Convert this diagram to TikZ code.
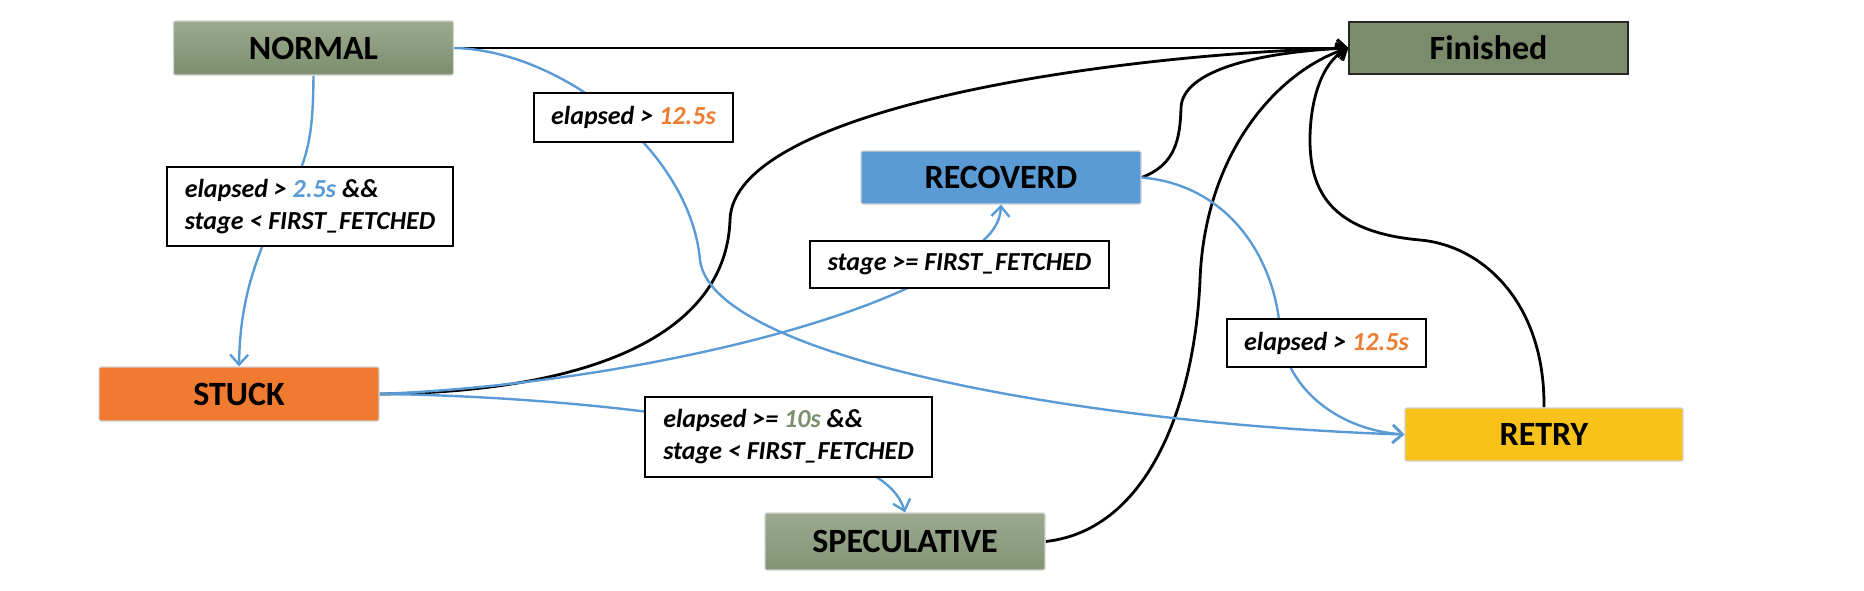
\documentclass[tikz,border=0pt]{standalone}
\usepackage{fontspec}
\setmainfont{Carlito}
\usetikzlibrary{arrows.meta,backgrounds}
\definecolor{grtop}{HTML}{9CAA90}
\definecolor{grbot}{HTML}{7C8E6D}
\definecolor{finc}{HTML}{7B8C6C}
\definecolor{recc}{HTML}{5B9BD5}
\definecolor{stuckc}{HTML}{F07A30}
\definecolor{retryc}{HTML}{F8C21A}
\definecolor{lineblue}{HTML}{5B9BD5}
\definecolor{orangetxt}{HTML}{ED7D31}
\definecolor{greentxt}{HTML}{7E906F}
\begin{document}
\begin{tikzpicture}[x=1pt,y=-1pt,
  stnode/.style={minimum width=280pt, minimum height=54pt, inner sep=0pt,
    font=\fontsize{34}{40}\selectfont\bfseries, draw=gray!35, line width=1.2pt, rounded corners=2pt},
  condbox/.style={draw=black, line width=2pt, fill=white, inner sep=0pt,
    font=\fontsize{26}{32}\selectfont\bfseries\itshape, align=left},
  blk/.style={draw=black, line width=2.8pt, -{Straight Barb[length=9pt,width=17pt,line width=2.8pt]}},
  blu/.style={draw=lineblue, line width=2.4pt, -{Straight Barb[length=10pt,width=18pt]}}
]
\useasboundingbox (0,0) rectangle (1864,590);

% state nodes
\node[stnode, top color=grtop, bottom color=grbot] (NORMAL) at (313.5,48) {NORMAL};
\node[stnode, fill=finc, draw=black!85, rounded corners=0pt, minimum width=279pt, minimum height=52pt] (Finished) at (1488.5,48) {Finished};
\node[stnode, fill=recc, minimum height=53pt] (RECOVERD) at (1001,177.5) {RECOVERD};
\node[stnode, fill=stuckc] (STUCK) at (239,394) {STUCK};
\node[stnode, fill=retryc, minimum width=278pt, minimum height=53pt] (RETRY) at (1544,434.5) {RETRY};
\node[stnode, top color=grtop, bottom color=grbot!80!grtop, minimum height=57pt] (SPECULATIVE) at (905,541.5) {SPECULATIVE};

% condition labels
\node[condbox, minimum width=286pt, minimum height=79pt] (L1) at (310,206.5)
  {elapsed > \textcolor{lineblue}{2.5s} \&\&\\ stage < FIRST\_FETCHED};
\node[condbox, minimum width=199pt, minimum height=49pt] (L2) at (633.5,117.5)
  {elapsed > \textcolor{orangetxt}{12.5s}};
\node[condbox, minimum width=299pt, minimum height=47pt] (L3) at (959.5,264.5)
  {stage >= FIRST\_FETCHED};
\node[condbox, minimum width=199pt, minimum height=48pt] (L4) at (1326.5,343)
  {elapsed > \textcolor{orangetxt}{12.5s}};
\node[condbox, minimum width=287pt, minimum height=80pt] (L5) at (788.5,437)
  {elapsed >= \textcolor{greentxt}{10s} \&\&\\ stage < FIRST\_FETCHED};

\begin{pgfonlayer}{background}
% black transitions to Finished
\draw[blk] (NORMAL.east) -- (Finished.west);
\draw[blk] (STUCK.east) .. controls (590,392) and (726,335) .. (730,220)
  .. controls (733,110) and (1100,55) .. (Finished.west);
\draw[blk] (RECOVERD.east) .. controls (1175,165) and (1180,140) .. (1181,108)
  .. controls (1182,70) and (1260,52) .. (Finished.west);
\draw[blk] (SPECULATIVE.east) .. controls (1150,530) and (1195,400) .. (1200,280)
  .. controls (1205,150) and (1280,70) .. (Finished.west);
\draw[blk] (RETRY.north) .. controls (1545,300) and (1480,245) .. (1420,240)
  .. controls (1330,232) and (1310,190) .. (1310,140)
  .. controls (1310,100) and (1322,62) .. (Finished.west);

% blue transitions
\draw[blu] (NORMAL.south) .. controls (313,130) and (310,165) .. (280,205)
  .. controls (255,260) and (240,300) .. (STUCK.north);
\draw[blu] (NORMAL.east) .. controls (560,50) and (690,150) .. (700,260)
  .. controls (712,360) and (1100,425) .. (RETRY.west);
\draw[blu] (STUCK.east) .. controls (600,385) and (850,330) .. (950,265)
  .. controls (990,240) and (1000,225) .. (RECOVERD.south);
\draw[blu] (STUCK.east) .. controls (500,395) and (700,410) .. (790,440)
  .. controls (860,465) and (895,480) .. (SPECULATIVE.north);
\draw[blu] (RECOVERD.east) .. controls (1230,185) and (1275,260) .. (1280,330)
  .. controls (1285,390) and (1340,430) .. (RETRY.west);
\end{pgfonlayer}
\end{tikzpicture}
\end{document}
